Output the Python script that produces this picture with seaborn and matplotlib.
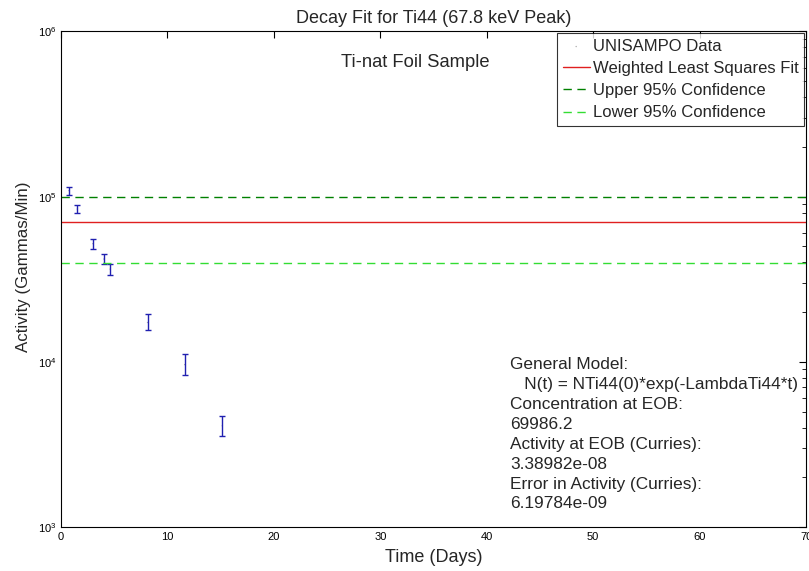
import numpy as np
import pandas as pd
import seaborn as sns
import matplotlib.pyplot as plt

days = [0.75, 1.53, 3.0, 4.03, 4.62, 8.13, 11.62, 15.15]
activity = [1.087e5, 8.41e4, 5.19e4, 4.19e4, 3.64e4, 1.73e4, 9.62e3, 4.10e3]
act_hi = [1.149e5, 8.91e4, 5.52e4, 4.51e4, 3.93e4, 1.94e4, 1.11e4, 4.70e3]
act_lo = [1.028e5, 7.93e4, 4.85e4, 3.89e4, 3.37e4, 1.55e4, 8.32e3, 3.57e3]

fit_value = 69986.2
upper_conf = 1.0e5
lower_conf = 3.95e4

info_lines = [
    "General Model:",
    "   N(t) = NTi44(0)*exp(-LambdaTi44*t)",
    "Concentration at EOB:",
    "69986.2",
    "Activity at EOB (Curries):",
    "3.38982e-08",
    "Error in Activity (Curries):",
    "6.19784e-09",
]

df = pd.DataFrame({"Time": days, "Activity": activity, "hi": act_hi, "lo": act_lo})

sns.set_style("white")
plt.rcParams["font.family"] = ["Liberation Sans", "DejaVu Sans"]

fig = plt.figure(figsize=(8.09, 5.71), dpi=100)
ax = fig.add_axes([0.0754, 0.077, 0.921, 0.868])

yerr = [df["Activity"] - df["lo"], df["hi"] - df["Activity"]]
ax.errorbar(df["Time"], df["Activity"], yerr=yerr, fmt="none",
            ecolor="#2020b0", elinewidth=1, capsize=2.5, capthick=1)
sns.scatterplot(data=df, x="Time", y="Activity", ax=ax, marker=".",
                s=4, color="#aaaaaa", edgecolor="none", label="UNISAMPO Data")

ax.axhline(fit_value, color="#e02020", lw=1, label="Weighted Least Squares Fit")
ax.axhline(upper_conf, color="#008000", lw=1, ls=(0, (6, 4)), label="Upper 95% Confidence")
ax.axhline(lower_conf, color="#33dd33", lw=1, ls=(0, (6, 4)), label="Lower 95% Confidence")

ax.set_yscale("log")
ax.set_xlim(0, 70)
ax.set_ylim(1e3, 1e6)
ax.set_xticks(range(0, 71, 10))

for s in ax.spines.values():
    s.set_color("black")
    s.set_linewidth(0.8)
ax.tick_params(which="both", direction="in", top=True, right=True, labelsize=8, colors="black")
ax.tick_params(which="major", length=5)
ax.tick_params(which="minor", length=3)

ax.set_title("Decay Fit for Ti44 (67.8 keV Peak)", fontsize=13, pad=6)
ax.set_xlabel("Time (Days)", fontsize=13, labelpad=5)
ax.set_ylabel("Activity (Gammas/Min)", fontsize=12.2)
ax.yaxis.set_label_coords(-0.040, 0.526)

ax.text(0.475, 0.938, "Ti-nat Foil Sample", transform=ax.transAxes,
        ha="center", va="center", fontsize=13.2)
ax.text(0.603, 0.343, "\n".join(info_lines), transform=ax.transAxes,
        ha="left", va="top", fontsize=12.4, linespacing=1.41)

leg = ax.legend(loc="upper right", fontsize=12, frameon=True, fancybox=False,
                borderaxespad=0.1, handlelength=1.6, handletextpad=0.2,
                labelspacing=0.43, borderpad=0.35, markerscale=1)
leg.get_frame().set_edgecolor("black")
leg.get_frame().set_linewidth(0.8)

fig.savefig("out.png", dpi=100)
